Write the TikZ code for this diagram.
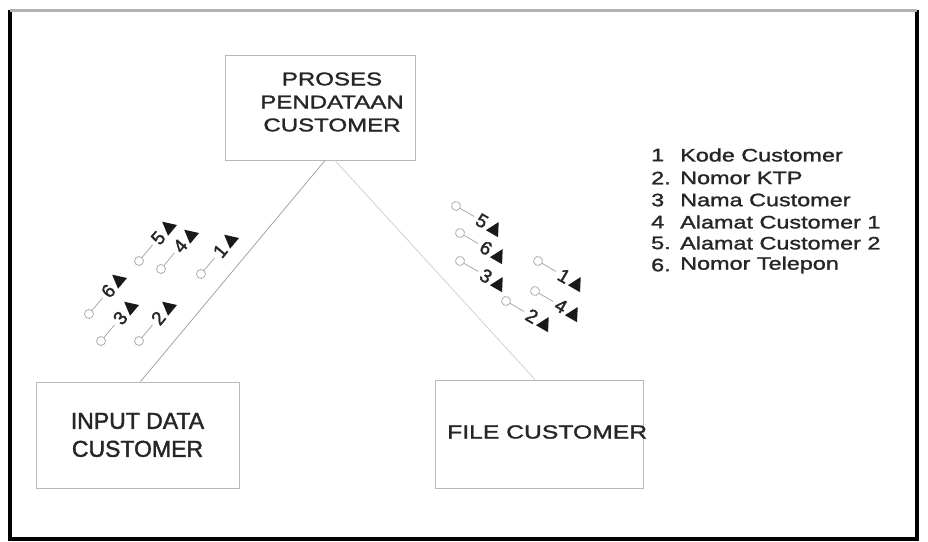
\documentclass[tikz,border=0pt]{standalone}
\usepackage{fontspec}
\setmainfont{Liberation Sans}[FakeBold=1.2]
\newfontfamily\widesans[FakeStretch=1.3, FakeBold=1.4]{Liberation Sans}
\newfontfamily\heavysans[FakeBold=1.8]{Liberation Sans}
\newcommand\dcouple[4]{% x, y, angle, number
  \begin{scope}[shift={(#1,#2)}, rotate=#3]
    \draw[couple] (0pt,0pt) circle (4.5pt);
    \draw[couple] (4.5pt,0pt) -- (21pt,0pt);
    \node[coupnum, rotate=#3] at (30pt,0pt) {#4};
    \fill[ink] (38pt,-6pt) -- (52pt,-6pt) -- (45pt,7.5pt) -- cycle;
  \end{scope}}
\begin{document}
\begin{tikzpicture}[x=1pt, y=-1pt,
  ink/.style={black!90},
  modbox/.style={draw=gray!55, line width=0.9pt, inner sep=0pt},
  link/.style={draw=gray!70, line width=0.8pt},
  couple/.style={draw=gray!65, line width=0.8pt},
  coupnum/.style={text=black!85, inner sep=0pt, font=\heavysans\fontsize{19}{19}\selectfont},
  boxtxt/.style={text=black!85, inner sep=0pt, align=center},
  legnum/.style={text=black!85, inner sep=0pt, anchor=west, font=\widesans\fontsize{18}{18}\selectfont},
  legtxt/.style={text=black!85, inner sep=0pt, anchor=west, font=\widesans\fontsize{18}{18}\selectfont}]
  \useasboundingbox (0,0) rectangle (928,541);
  \fill[white] (0,0) rectangle (928,541);

  % outer frame
  \draw[black, line width=3.5pt] (10,10) -- (10,539) -- (917,539) -- (917,10);
  \draw[gray!60, line width=3pt] (10,10) -- (917,10);

  % modules
  \node[modbox, minimum width=190pt, minimum height=105pt] (proses) at (320,107.5) {};
  \node[boxtxt, font=\widesans\fontsize{18.5}{23}\selectfont] (prosestxt) at (332,102)
    {PROSES\\PENDATAAN\\CUSTOMER};
  \node[modbox, minimum width=203pt, minimum height=106pt, text=black!85,
        align=center, font=\heavysans\fontsize{23}{28}\selectfont] (input) at (137.5,435)
    {INPUT DATA\\CUSTOMER};
  \node[modbox, minimum width=208pt, minimum height=108pt] (file) at (539,434) {};
  \node[boxtxt, anchor=west, font=\widesans\fontsize{19}{19}\selectfont] (filetxt) at (447,432)
    {FILE CUSTOMER};

  % calls
  \draw[link] ([xshift=5pt]proses.south) -- ([xshift=3pt]input.north);
  \draw[link, draw=gray!35] ([xshift=15pt]proses.south) -- ([xshift=-4pt]file.north);

  % data couples towards the process module
  \dcouple{139}{261}{50}{5}
  \dcouple{161}{269}{50}{4}
  \dcouple{201}{274}{50}{1}
  \dcouple{89}{314}{50}{6}
  \dcouple{101}{341}{50}{3}
  \dcouple{139}{341}{50}{2}

  % data couples towards the file
  \dcouple{456}{206}{-30}{5}
  \dcouple{460}{233}{-30}{6}
  \dcouple{460}{261}{-30}{3}
  \dcouple{538}{261}{-30}{1}
  \dcouple{535}{291}{-30}{4}
  \dcouple{506}{301}{-30}{2}

  % legend
  \node[legnum] (n1) at (651,155) {1};  \node[legtxt] (t1) at (680,155) {Kode Customer};
  \node[legnum] (n2) at (651,178) {2.}; \node[legtxt] (t2) at (680,178) {Nomor KTP};
  \node[legnum] (n3) at (651,200) {3};  \node[legtxt] (t3) at (680,200) {Nama Customer};
  \node[legnum] (n4) at (651,222) {4};  \node[legtxt] (t4) at (680,222) {Alamat Customer 1};
  \node[legnum] (n5) at (651,243) {5.}; \node[legtxt] (t5) at (680,243) {Alamat Customer 2};
  \node[legnum] (n6) at (651,265) {6.}; \node[legtxt] (t6) at (680,265) {Nomor Telepon};
\end{tikzpicture}
\end{document}
